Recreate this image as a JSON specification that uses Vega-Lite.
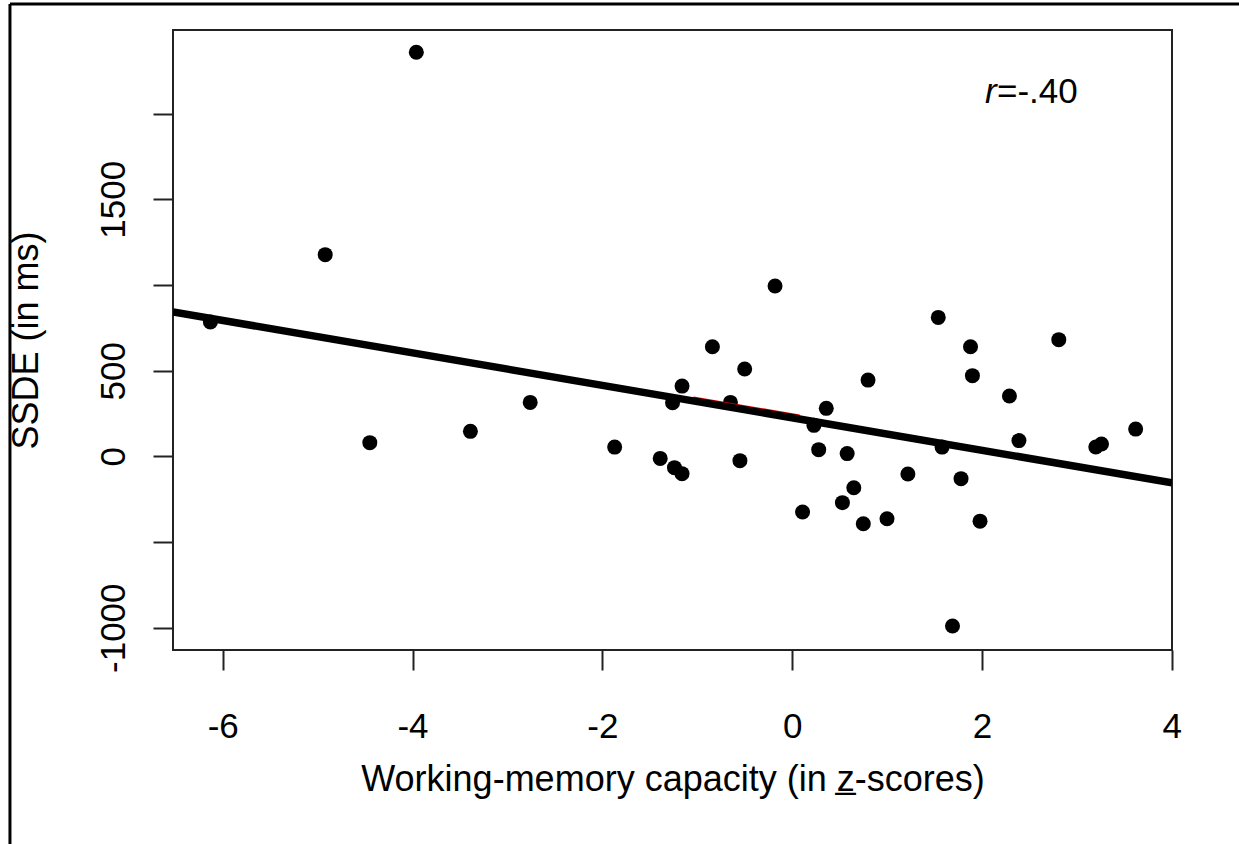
{
  "$schema": "https://vega.github.io/schema/vega-lite/v6.json",
  "width": 999,
  "height": 620,
  "autosize": {"type": "none"},
  "padding": {"left": 173, "top": 30, "right": 67, "bottom": 194},
  "background": "white",
  "config": {
    "view": {"stroke": "#222222", "strokeWidth": 2},
    "font": "Liberation Sans",
    "axis": {
      "grid": false,
      "domain": false,
      "tickColor": "#222222",
      "tickWidth": 2,
      "tickSize": 20,
      "labelFont": "Liberation Sans",
      "labelFontSize": 35,
      "labelColor": "black",
      "labelOverlap": false,
      "labelFlush": false,
      "titleFont": "Liberation Sans",
      "titleFontSize": 36,
      "titleFontWeight": "normal",
      "titleColor": "black"
    }
  },
  "datasets": {
    "points": [
      {"x": -3.96, "y": 2358}, {"x": -4.92, "y": 1177}, {"x": -6.13, "y": 784},
      {"x": -4.45, "y": 80}, {"x": -3.39, "y": 146}, {"x": -2.76, "y": 315},
      {"x": -1.87, "y": 54}, {"x": -1.39, "y": -12}, {"x": -1.24, "y": -66},
      {"x": -1.16, "y": -101}, {"x": -1.26, "y": 313}, {"x": -1.16, "y": 410},
      {"x": -0.84, "y": 640}, {"x": -0.65, "y": 315}, {"x": -0.55, "y": -25},
      {"x": -0.50, "y": 510}, {"x": -0.18, "y": 994}, {"x": 0.11, "y": -325},
      {"x": 0.23, "y": 181}, {"x": 0.28, "y": 39}, {"x": 0.36, "y": 280},
      {"x": 0.53, "y": -270}, {"x": 0.58, "y": 16}, {"x": 0.65, "y": -183},
      {"x": 0.75, "y": -393}, {"x": 0.80, "y": 445}, {"x": 1.00, "y": -364},
      {"x": 1.22, "y": -103}, {"x": 1.54, "y": 811}, {"x": 1.58, "y": 54},
      {"x": 1.69, "y": -990}, {"x": 1.78, "y": -130}, {"x": 1.88, "y": 640},
      {"x": 1.90, "y": 471}, {"x": 1.98, "y": -378}, {"x": 2.29, "y": 352},
      {"x": 2.39, "y": 92}, {"x": 2.81, "y": 681}, {"x": 3.20, "y": 55},
      {"x": 3.26, "y": 72}, {"x": 3.62, "y": 159}
    ],
    "fit": [
      {"x": -6.524, "y": 842.8},
      {"x": 4.003, "y": -154.1}
    ],
    "loess": [
      {"x": -1.04, "y": 345},
      {"x": 0.08, "y": 240}
    ],
    "one": [{}]
  },
  "layer": [
    {
      "data": {"name": "points"},
      "mark": {"type": "circle", "size": 225, "color": "black", "opacity": 1},
      "encoding": {
        "x": {
          "field": "x", "type": "quantitative",
          "scale": {"domain": [-6.524, 4.003], "nice": false, "zero": false},
          "axis": {
            "values": [-6, -4, -2, 0, 2, 4],
            "labelExpr": "'' + datum.value",
            "labelBaseline": "top",
            "labelPadding": 39,
            "title": "Working-memory capacity (in z\u0332-scores)",
            "titleAlign": "center",
            "titleBaseline": "alphabetic",
            "titleX": 499.5,
            "titleY": 140
          }
        },
        "y": {
          "field": "y", "type": "quantitative",
          "scale": {"domain": [-1130, 2488], "nice": false, "zero": false},
          "axis": {
            "values": [-1000, -500, 0, 500, 1000, 1500, 2000],
            "labelExpr": "datum.value == 2000 || datum.value == 1000 || datum.value == -500 ? '' : '' + datum.value",
            "labelAngle": 270,
            "labelAlign": "center",
            "labelBaseline": "alphabetic",
            "labelPadding": 29,
            "title": "SSDE (in ms)",
            "titleAngle": 270,
            "titleAlign": "center",
            "titleBaseline": "alphabetic",
            "titleX": -136,
            "titleY": 310
          }
        }
      }
    },
    {
      "data": {"name": "loess"},
      "mark": {"type": "line", "color": "#e00000", "strokeWidth": 1.5, "clip": true},
      "encoding": {
        "x": {"field": "x", "type": "quantitative", "scale": {"domain": [-6.524, 4.003], "nice": false, "zero": false}},
        "y": {"field": "y", "type": "quantitative", "scale": {"domain": [-1130, 2488], "nice": false, "zero": false}}
      }
    },
    {
      "data": {"name": "fit"},
      "mark": {"type": "line", "color": "black", "strokeWidth": 7.5, "clip": true},
      "encoding": {
        "x": {"field": "x", "type": "quantitative", "scale": {"domain": [-6.524, 4.003], "nice": false, "zero": false}},
        "y": {"field": "y", "type": "quantitative", "scale": {"domain": [-1130, 2488], "nice": false, "zero": false}}
      }
    },
    {
      "data": {"name": "one"},
      "mark": {"type": "text", "text": "r", "fontStyle": "italic", "fontSize": 35, "align": "left", "baseline": "alphabetic", "color": "black", "font": "Liberation Sans"},
      "encoding": {
        "x": {"datum": 2.032, "type": "quantitative", "scale": {"domain": [-6.524, 4.003], "nice": false, "zero": false}},
        "y": {"datum": 2060, "type": "quantitative", "scale": {"domain": [-1130, 2488], "nice": false, "zero": false}}
      }
    },
    {
      "data": {"name": "one"},
      "mark": {"type": "text", "text": "=-.40", "fontSize": 35, "align": "left", "baseline": "alphabetic", "color": "black", "font": "Liberation Sans"},
      "encoding": {
        "x": {"datum": 2.159, "type": "quantitative", "scale": {"domain": [-6.524, 4.003], "nice": false, "zero": false}},
        "y": {"datum": 2060, "type": "quantitative", "scale": {"domain": [-1130, 2488], "nice": false, "zero": false}}
      }
    },
    {
      "data": {"name": "one"},
      "mark": {"type": "rule", "color": "black", "strokeWidth": 3},
      "encoding": {
        "x": {"datum": -8.242, "type": "quantitative", "scale": {"domain": [-6.524, 4.003], "nice": false, "zero": false}},
        "y": {"datum": 2640, "type": "quantitative", "scale": {"domain": [-1130, 2488], "nice": false, "zero": false}},
        "y2": {"datum": -2270}
      }
    },
    {
      "data": {"name": "one"},
      "mark": {"type": "rule", "color": "black", "strokeWidth": 3},
      "encoding": {
        "x": {"datum": -8.242, "type": "quantitative", "scale": {"domain": [-6.524, 4.003], "nice": false, "zero": false}},
        "x2": {"datum": 4.72},
        "y": {"datum": 2640, "type": "quantitative", "scale": {"domain": [-1130, 2488], "nice": false, "zero": false}}
      }
    }
  ]
}
